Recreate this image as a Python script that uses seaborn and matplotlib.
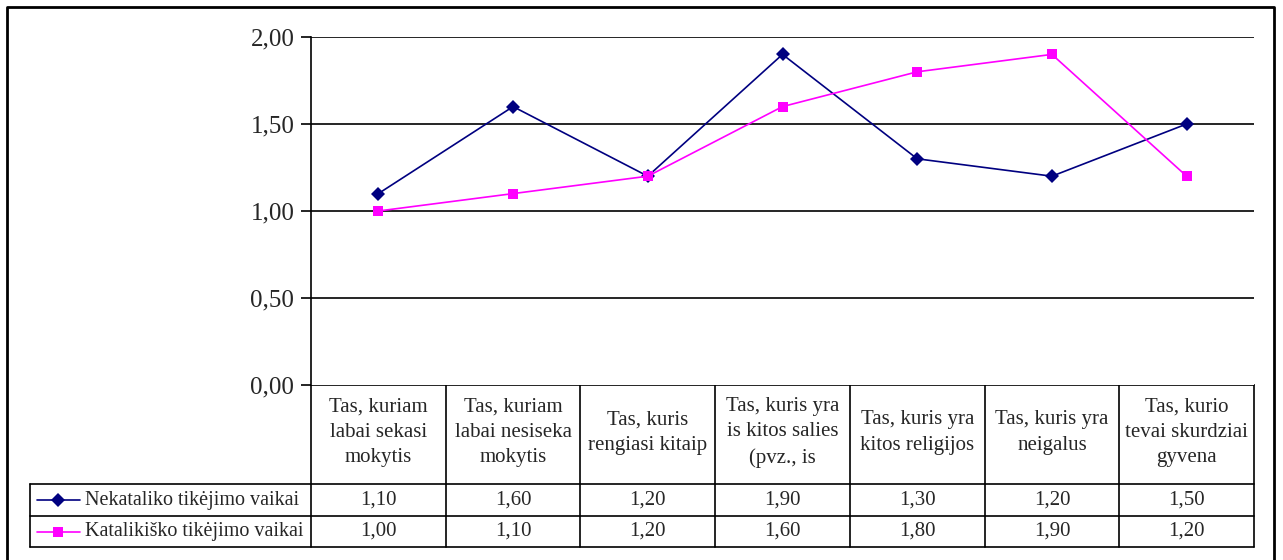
import pandas as pd
import matplotlib.pyplot as plt
import seaborn as sns
from matplotlib.lines import Line2D

# Duomenys
categories = [
    "Tas, kuriam\nlabai sekasi\nmokytis",
    "Tas, kuriam\nlabai nesiseka\nmokytis",
    "Tas, kuris\nrengiasi kitaip",
    "Tas, kuris yra\nis kitos salies\n(pvz., is",
    "Tas, kuris yra\nkitos religijos",
    "Tas, kuris yra\nneigalus",
    "Tas, kurio\ntevai skurdziai\ngyvena",
]
series_names = ["Nekataliko tikėjimo vaikai", "Katalikiško tikėjimo vaikai"]
nekataliko = [1.10, 1.60, 1.20, 1.90, 1.30, 1.20, 1.50]
katalikisko = [1.00, 1.10, 1.20, 1.60, 1.80, 1.90, 1.20]
y_ticks = [0.0, 0.5, 1.0, 1.5, 2.0]

colors = {series_names[0]: "#000080", series_names[1]: "#FF00FF"}
markers = {series_names[0]: "D", series_names[1]: "s"}

rows = []
for i, cat in enumerate(categories):
    rows.append({"pos": i, "serija": series_names[0], "reiksme": nekataliko[i]})
    rows.append({"pos": i, "serija": series_names[1], "reiksme": katalikisko[i]})
df = pd.DataFrame(rows)

sns.set_style("white")
plt.rcParams["font.family"] = ["Liberation Serif", "DejaVu Serif"]

W, H = 1283, 560
fig = plt.figure(figsize=(W / 100, H / 100), dpi=100)

# pikseliais nurodyta braizymo sritis
L, R, T, B = 311, 1254, 37, 385
ax = fig.add_axes([L / W, 1 - B / H, (R - L) / W, (B - T) / H])

sns.lineplot(data=df, x="pos", y="reiksme", hue="serija", style="serija",
             palette=colors, markers=markers, dashes=False, markersize=7,
             markeredgewidth=0, linewidth=1.2, legend=False, ax=ax, zorder=3)

ax.set_xlim(-0.5, len(categories) - 0.5)
ax.set_ylim(0, 2.0)
ax.set_yticks(y_ticks)
ax.set_yticklabels([f"{v:.2f}".replace(".", ",") for v in y_ticks], fontsize=18)
ax.set_xticks([])
ax.set_xlabel("")
ax.set_ylabel("")
ax.tick_params(axis="y", length=7, width=1.2, color="black", left=True, pad=5)
for v in y_ticks[1:]:
    ax.axhline(v, color="black", linewidth=1.2, zorder=1)
for s in ["top", "right", "bottom"]:
    ax.spines[s].set_visible(False)
ax.spines["left"].set_color("black")
ax.spines["left"].set_linewidth(1.2)

# lentele po grafiku
tab = fig.add_axes([0, 0, 1, 1], zorder=-1)
tab.set_xlim(0, W)
tab.set_ylim(H, 0)
tab.axis("off")

col_w = (R - L) / len(categories)
col_edges = [L + i * col_w for i in range(len(categories) + 1)]
hdr_bot, r1_bot, r2_bot = 484, 516, 547
label_left = 30


def hline(x0, x1, y, lw=1.2):
    tab.add_line(Line2D([x0, x1], [y, y], color="black", linewidth=lw))


def vline(x, y0, y1, lw=1.2):
    tab.add_line(Line2D([x, x], [y0, y1], color="black", linewidth=lw))


hline(L, R, B)
for y in [hdr_bot, r1_bot, r2_bot]:
    hline(label_left, R, y)
for x in col_edges:
    vline(x, B, r2_bot)
vline(label_left, hdr_bot, r2_bot)

for i, cat in enumerate(categories):
    cx = (col_edges[i] + col_edges[i + 1]) / 2
    tab.text(cx, (B + hdr_bot) / 2 - 2, cat, ha="center", va="center",
             fontsize=15, linespacing=1.45)
    tab.text(cx, (hdr_bot + r1_bot) / 2, f"{nekataliko[i]:.2f}".replace(".", ","),
             ha="center", va="center", fontsize=15)
    tab.text(cx, (r1_bot + r2_bot) / 2, f"{katalikisko[i]:.2f}".replace(".", ","),
             ha="center", va="center", fontsize=15)

for name, (y0, y1) in zip(series_names, [(hdr_bot, r1_bot), (r1_bot, r2_bot)]):
    cy = (y0 + y1) / 2
    tab.add_line(Line2D([37, 80], [cy, cy], color=colors[name], linewidth=1.2))
    tab.add_line(Line2D([58], [cy], color=colors[name], marker=markers[name],
                        markersize=7, markeredgewidth=0))
    tab.text(85, cy, name, ha="left", va="center", fontsize=14.5)

# remelis aplink visa diagrama
tab.add_line(Line2D([7, 7, 1274, 1274], [H, 7, 7, H], color="black", linewidth=2))

fig.savefig("out.png", dpi=100)
